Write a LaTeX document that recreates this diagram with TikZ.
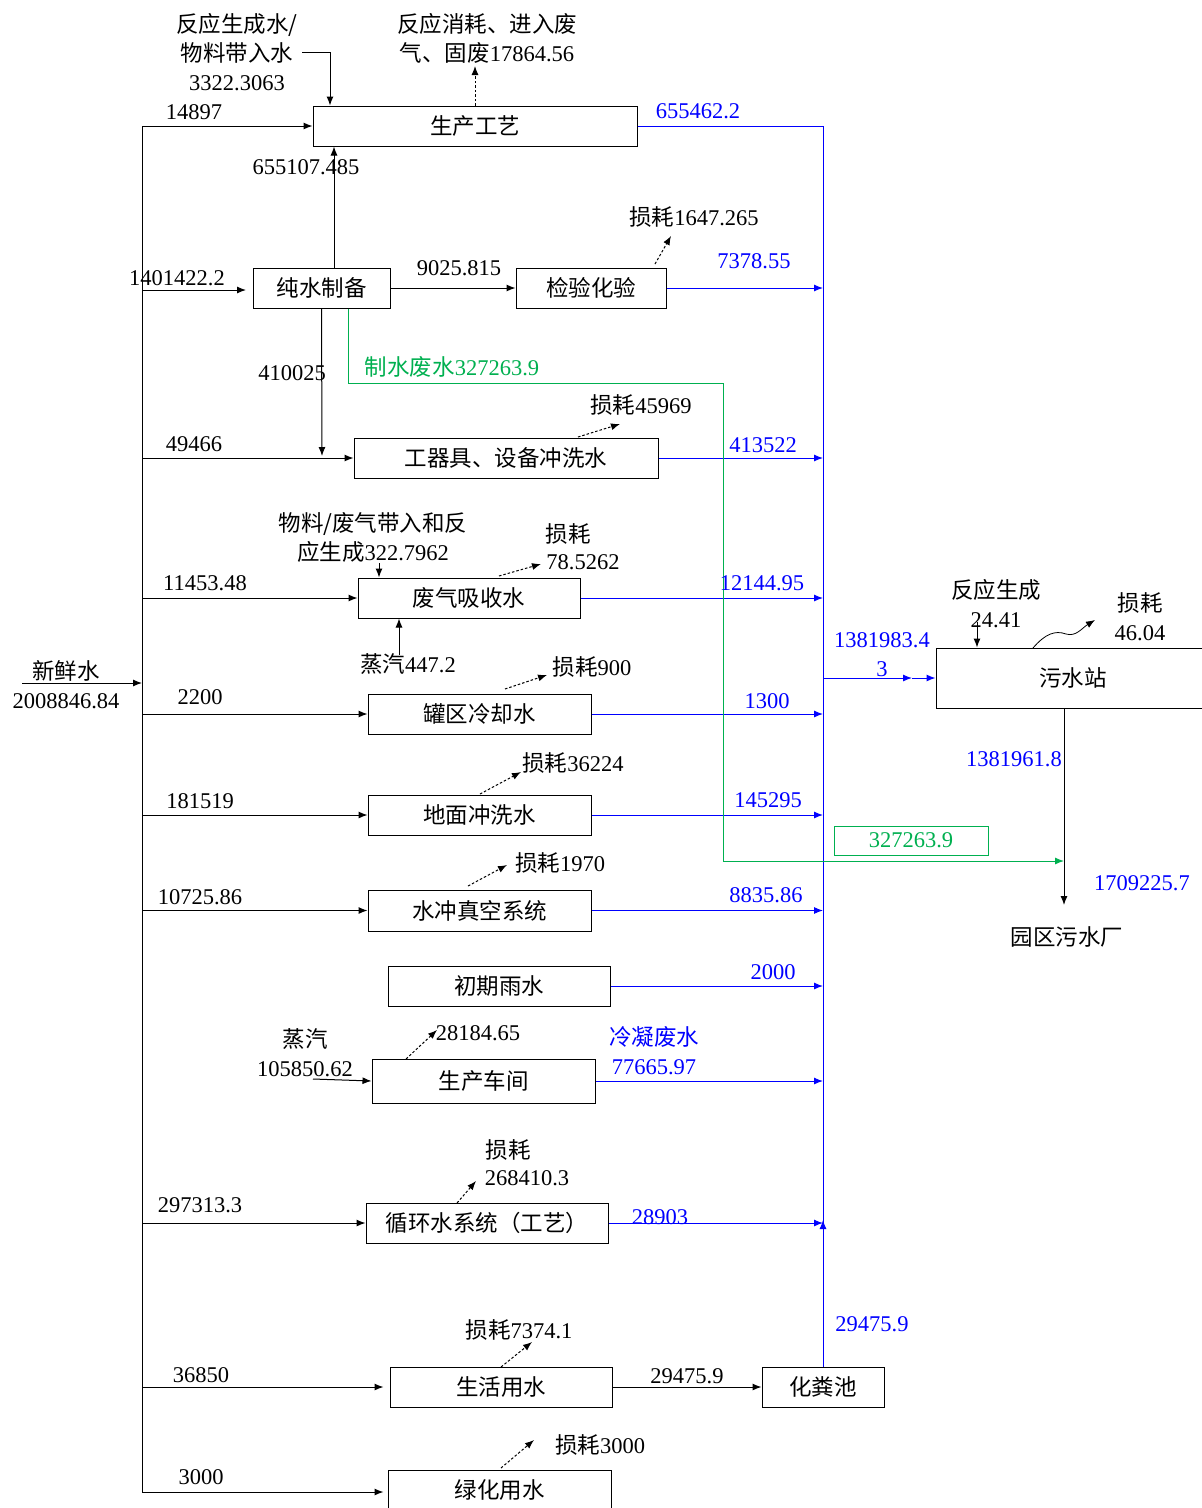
\documentclass[tikz,border=0pt]{standalone}
\usepackage{fontspec}
\setmainfont{Liberation Serif}
\newfontfamily\cjk{Noto Sans CJK SC}
\usetikzlibrary{arrows.meta}
\newcommand\zh[1]{{\cjk #1}}
\definecolor{gr}{RGB}{0,176,80}
\definecolor{bl}{RGB}{0,0,255}
\begin{document}
\begin{tikzpicture}[x=1pt,y=-1pt,font=\fontsize{22.5}{29}\selectfont,
  box/.style={draw,line width=1pt,inner sep=0pt,minimum height=40pt},
  ln/.style={line width=1pt},
  arr/.style={ln,-{Latex[length=9pt,width=7pt]}},
  darr/.style={arr,dash pattern=on 2.5pt off 2pt},
  barr/.style={arr,draw=bl},
  bln/.style={ln,draw=bl},
  lab/.style={inner sep=0pt,anchor=center,align=center},
  blab/.style={lab,text=bl},
  glab/.style={lab,text=gr}]
\useasboundingbox (0,0) rectangle (1202,1508);
\clip (0,0) rectangle (1202,1508);
\fill[white] (0,0) rectangle (1202,1508);

% boxes
\node[box,minimum width=324pt] (gy) at (475,126) {\zh{生产工艺}};
\node[box,minimum width=137pt] (cs) at (321.5,288) {\zh{纯水制备}};
\node[box,minimum width=150pt] (jy) at (591,288) {\zh{检验化验}};
\node[box,minimum width=304pt] (gq) at (506,458) {\zh{工器具、设备冲洗水}};
\node[box,minimum width=222pt] (fq) at (469,598) {\zh{废气吸收水}};
\node[box,minimum width=280pt,minimum height=60pt] (ws) at (1076,678) {\hspace*{-6pt}\zh{污水站}};
\node[box,minimum width=223pt] (gl) at (479.5,714) {\zh{罐区冷却水}};
\node[box,minimum width=223pt] (dm) at (479.5,815) {\zh{地面冲洗水}};
\node[box,minimum width=223pt,minimum height=41pt] (sc) at (479.5,910.5) {\zh{水冲真空系统}};
\node[box,minimum width=222pt] (cq) at (499,986) {\zh{初期雨水}};
\node[box,minimum width=223pt,minimum height=44pt] (cj) at (483.5,1081) {\zh{生产车间}};
\node[box,minimum width=242pt] (xh) at (487,1223) {\zh{循环水系统（工艺）}};
\node[box,minimum width=222pt] (sh) at (501,1387) {\zh{生活用水}};
\node[box,minimum width=122pt] (hf) at (823,1387) {\zh{化粪池}};
\node[box,minimum width=223pt] (lh) at (499.5,1490) {\zh{绿化用水}};
\node[draw=gr,line width=1pt,inner sep=0pt,minimum width=154pt,minimum height=29pt,text=gr] (gbox) at (911,840.5) {327263.9};

% coordinates
\coordinate (tl) at (142,126);
\coordinate (tb) at (142,1492);
\coordinate (fw) at (22,683);
\coordinate (bt) at (823,126);
\coordinate (bj) at (823,1223);
\coordinate (mid) at (912,678);
\coordinate (wo) at (1064,708);
\coordinate (wend) at (1064,905);
\coordinate (g0) at (348,383);
\coordinate (g1) at (723,383);
\coordinate (g2) at (723,861);
\coordinate (csin) at (246,290);
\coordinate (q1) at (302,52);
\coordinate (q2) at (330,52);
\coordinate (q3) at (475,66);
\coordinate (q4) at (322,456);
\coordinate (s1) at (399,655);
\coordinate (s2) at (379,563);
\coordinate (s3) at (313,1079);
\coordinate (r1) at (977,622);
\coordinate (w1) at (1033,648);
\coordinate (w2) at (1095,620);

% left trunk
\draw[ln] (tl) -- (tb);
\draw[arr] (fw) -- (fw -| tl);
\draw[arr] (tl) -- (gy.west);
\draw[arr] (tl |- csin) -- (csin);
\draw[arr] (tl |- gq.west) -- (gq.west);
\draw[arr] (tl |- fq.west) -- (fq.west);
\draw[arr] (tl |- gl.west) -- (gl.west);
\draw[arr] (tl |- dm.west) -- (dm.west);
\draw[arr] (tl |- sc.west) -- (sc.west);
\draw[arr] (tl |- xh.west) -- (xh.west);
\draw[arr] (tl |- sh.west) -- ([xshift=-6pt]sh.west);
\draw[arr] (tb) -- ([xshift=-4pt]lh.west |- tb);

% internal black
\draw[arr] (cs.north -| 334,0) -- (gy.south -| 334,0);
\draw[arr] (cs.east) -- (jy.west);
\draw[arr] (cs.south) -- (q4);
\draw[arr] (q1) -- (q2) -- (gy.north -| q2);
\draw[darr] (gy.north) -- (q3);
\draw[arr] (s1) -- (s1 |- fq.south);
\draw[arr] (s2) -- (s2 |- fq.north);
\draw[arr] (s3) -- (cj.west);
\draw[arr] (sh.east) -- (hf.west);
\draw[arr] (wo) -- (wend);
\draw[arr] (r1) -- (r1 |- ws.north);
\draw[arr,line width=0.8pt] (w1) .. controls (1045,634) and (1055,630) .. (1066,634) .. controls (1076,637) and (1082,628) .. (w2);

% dashed losses
\draw[darr] (655,264) -- (671,236);
\draw[darr] (578,437) -- (620,424);
\draw[darr] (499,576) -- (541,564);
\draw[darr] (505,689) -- (547,675);
\draw[darr] (480,794) -- (521,772);
\draw[darr] (468,886) -- (507,865);
\draw[darr] (406,1059) -- (437,1030);
\draw[darr] (457,1203) -- (476,1181);
\draw[darr] (501,1367) -- (532,1342);
\draw[darr] (501,1468) -- (534,1440);

% blue trunk
\draw[bln] (gy.east) -- (bt) -- (bj);
\draw[barr] (hf.north) -- ([yshift=3pt]bj);
\draw[barr] (jy.east) -- (jy.east -| bt);
\draw[barr] (gq.east) -- (gq.east -| bt);
\draw[barr] (fq.east) -- (fq.east -| bt);
\draw[barr] (gl.east) -- (gl.east -| bt);
\draw[barr] (dm.east) -- (dm.east -| bt);
\draw[barr] (sc.east) -- (sc.east -| bt);
\draw[barr] (cq.east) -- (cq.east -| bt);
\draw[barr] (cj.east) -- (cj.east -| bt);
\draw[barr] (xh.east) -- (xh.east -| bt);
\draw[barr] (bt |- mid) -- (mid);
\draw[barr] (mid) -- (ws.west);

% green
\draw[ln,draw=gr] (g0 |- cs.south) -- (g0) -- (g1) -- (g2);
\draw[ln,draw=gr,-{Latex[length=9pt,width=7pt]}] (g2) -- (wo |- g2);

% labels black
\node[lab] (t1) at (237,52) {\zh{反应生成水/}\\\zh{物料带入水}\\3322.3063};
\node[lab] (t2) at (487,38) {\zh{反应消耗、进入废}\\\zh{气、固废}17864.56};
\node[lab] (t3) at (194,112) {14897};
\node[lab] (t4) at (306,167) {655107.485};
\node[lab] (t5) at (694,217) {\zh{损耗}1647.265};
\node[lab] (t6) at (177,278) {1401422.2};
\node[lab] (t7) at (459,268) {9025.815};
\node[lab] (t8) at (292,373) {410025};
\node[lab] (t9) at (641,405) {\zh{损耗}45969};
\node[lab] (t10) at (194,444) {49466};
\node[lab] (t11) at (373,537) {\zh{物料/废气带入和反}\\\zh{应生成}322.7962};
\node[lab] (t12a) at (568,534) {\zh{损耗}};
\node[lab] (t12b) at (583,562) {78.5262};
\node[lab] (t13) at (205,583) {11453.48};
\node[lab] (t14) at (408,664) {\zh{蒸汽}447.2};
\node[lab] (t15) at (66,685) {\zh{新鲜水}\\2008846.84};
\node[lab] (t16) at (592,667) {\zh{损耗}900};
\node[lab] (t17) at (200,697) {2200};
\node[lab] (t18) at (573,763) {\zh{损耗}36224};
\node[lab] (t19) at (200,801) {181519};
\node[lab] (t20) at (560,863) {\zh{损耗}1970};
\node[lab] (t21) at (200,897) {10725.86};
\node[lab] (t22) at (305,1053) {\zh{蒸汽}\\105850.62};
\node[lab] (t23) at (478,1033) {28184.65};
\node[lab] (t24a) at (508,1150) {\zh{损耗}};
\node[lab] (t24b) at (527,1178) {268410.3};
\node[lab] (t25) at (200,1205) {297313.3};
\node[lab] (t26) at (519,1330) {\zh{损耗}7374.1};
\node[lab] (t27) at (201,1375) {36850};
\node[lab] (t28) at (687,1376) {29475.9};
\node[lab] (t29) at (600,1445) {\zh{损耗}3000};
\node[lab] (t30) at (201,1477) {3000};
\node[lab] (t31) at (996,604) {\zh{反应生成}\\24.41};
\node[lab] (t32) at (1140,617) {\zh{损耗}\\46.04};
\node[lab] (t33) at (1067,937) {\zh{园区污水厂}};

% labels blue
\node[blab] (b1) at (698,111) {655462.2};
\node[blab] (b2) at (754,261) {7378.55};
\node[blab] (b3) at (763,445) {413522};
\node[blab] (b4) at (762,583) {12144.95};
\node[blab] (b5) at (882,655) {1381983.4\\3};
\node[blab] (b6) at (767,701) {1300};
\node[blab] (b7) at (768,800) {145295};
\node[blab] (b8) at (766,895) {8835.86};
\node[blab] (b9) at (773,972) {2000};
\node[blab] (b10) at (654,1051) {\zh{冷凝废水}\\77665.97};
\node[blab] (b11) at (660,1217) {28903};
\node[blab] (b12) at (872,1324) {29475.9};
\node[blab] (b13) at (1014,759) {1381961.8};
\node[blab] (b14) at (1142,883) {1709225.7};
\node[glab] (g14) at (452,367) {\zh{制水废水}327263.9};
\end{tikzpicture}
\end{document}
